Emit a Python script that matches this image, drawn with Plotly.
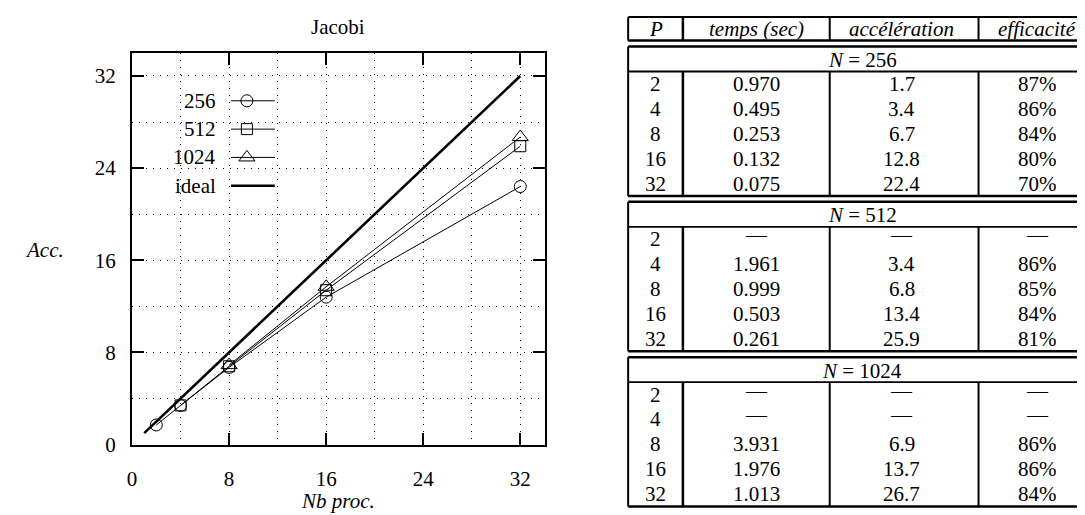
import plotly.graph_objects as go

# ---------------- data ----------------
P_VALUES = [2, 4, 8, 16, 32]
N_SIZES = [256, 512, 1024]

TEMPS_256 = [0.970, 0.495, 0.253, 0.132, 0.075]
ACCEL_256 = [1.7, 3.4, 6.7, 12.8, 22.4]
EFF_256 = [87, 86, 84, 80, 70]

TEMPS_512 = [None, 1.961, 0.999, 0.503, 0.261]
ACCEL_512 = [None, 3.4, 6.8, 13.4, 25.9]
EFF_512 = [None, 86, 85, 84, 81]

TEMPS_1024 = [None, None, 3.931, 1.976, 1.013]
ACCEL_1024 = [None, None, 6.9, 13.7, 26.7]
EFF_1024 = [None, None, 86, 86, 84]

HEADERS = ["<i>P</i>", "<i>temps (sec)</i>", "<i>accélération</i>", "<i>efficacité</i>"]
X_TICKS = [0, 8, 16, 24, 32]
Y_TICKS = [0, 8, 16, 24, 32]
TITLE = "Jacobi"
X_LABEL = "<i>Nb proc.</i>"
Y_LABEL = "<i>Acc.</i>"
IDEAL_LABEL = "ideal"

SERIES = [
    (256, TEMPS_256, ACCEL_256, EFF_256, "circle-open", 12),
    (512, TEMPS_512, ACCEL_512, EFF_512, "square-open", 11),
    (1024, TEMPS_1024, ACCEL_1024, EFF_1024, "triangle-up-open", 14),
]

# ---------------- style / layout ----------------
W, H = 1085, 515
FONT = "Liberation Serif, Times New Roman, serif"
FS = 21
BLACK = "black"

PLOT_L, PLOT_R, PLOT_T, PLOT_B = 119.6, 534.0, 46.0, 447.0


def px(x):
    return x / W


def py(y):
    return 1 - y / H


fig = go.Figure()

# chart series
for n, temps, accel, eff, sym, msize in SERIES:
    xs = [p for p, a in zip(P_VALUES, accel) if a is not None]
    ys = [a for a in accel if a is not None]
    fig.add_trace(go.Scatter(
        x=xs, y=ys, mode="lines+markers", showlegend=False,
        line=dict(color=BLACK, width=1),
        marker=dict(symbol=sym, size=msize, color=BLACK, line=dict(width=1, color=BLACK)),
        xaxis="x", yaxis="y", cliponaxis=False,
    ))

ideal_x = [1, max(P_VALUES)]
fig.add_trace(go.Scatter(
    x=ideal_x, y=ideal_x, mode="lines", showlegend=False,
    line=dict(color=BLACK, width=2.6), xaxis="x", yaxis="y",
))

# ---------------- custom key (pixel overlay axes) ----------------
KEY_TEXT_R = 205.5
KEY_LINE_X0, KEY_LINE_X1, KEY_MARK_X = 219.0, 263.0, 235.0
KEY_Y0, KEY_DY = 95.0, 29.0

annotations = []
shapes = []
key_entries = [(str(n), sym, msize) for n, _, _, _, sym, msize in SERIES] + [(IDEAL_LABEL, None, None)]
for i, (lab, sym, msize) in enumerate(key_entries):
    yk = KEY_Y0 + i * KEY_DY
    annotations.append(dict(
        x=px(KEY_TEXT_R), y=py(yk), xref="paper", yref="paper", text=lab,
        showarrow=False, xanchor="right", yanchor="middle", height=22,
        font=dict(family=FONT, size=FS, color=BLACK),
    ))
    shapes.append(dict(
        type="line", xref="paper", yref="paper",
        x0=px(KEY_LINE_X0), x1=px(KEY_LINE_X1), y0=py(yk), y1=py(yk),
        line=dict(color=BLACK, width=1 if sym else 2.6), layer="above",
    ))
    if sym:
        fig.add_trace(go.Scatter(
            x=[KEY_MARK_X], y=[yk], mode="markers", showlegend=False,
            marker=dict(symbol=sym, size=msize, color=BLACK, line=dict(width=1, color=BLACK)),
            xaxis="x2", yaxis="y2", cliponaxis=False, hoverinfo="skip",
        ))

# ---------------- chart texts ----------------
cx = (PLOT_L + PLOT_R) / 2
annotations += [
    dict(x=px(cx), y=py(19), xref="paper", yref="paper", text=TITLE, showarrow=False,
         xanchor="center", yanchor="middle", font=dict(family=FONT, size=FS, color=BLACK)),
    dict(x=px(cx), y=py(505), xref="paper", yref="paper", text=X_LABEL, showarrow=False,
         xanchor="center", yanchor="middle", font=dict(family=FONT, size=FS, color=BLACK)),
    dict(x=px(32), y=py(248), xref="paper", yref="paper", text=Y_LABEL, showarrow=False,
         xanchor="center", yanchor="middle", font=dict(family=FONT, size=FS, color=BLACK)),
]

# ---------------- table ----------------
COL_X = [618.0, 673.0, 820.5, 970.0, 1090.0]
COL_C = [645.5, 747.0, 893.0, 1029.0]
HEAD_T, HEAD_B = 9.3, 33.3
SEC_T0, SEC_STEP, ROW_H = 39.5, 159.0, 25.5
CELL_H = 20


def hline(y, x0, x1, w):
    shapes.append(dict(type="line", xref="paper", yref="paper", x0=px(x0), x1=px(x1),
                       y0=py(y), y1=py(y), line=dict(color=BLACK, width=w)))


def vline(x, y0, y1, w):
    shapes.append(dict(type="line", xref="paper", yref="paper", x0=px(x), x1=px(x),
                       y0=py(y0), y1=py(y1), line=dict(color=BLACK, width=w)))


def cell(x, y, text, yshift=0):
    annotations.append(dict(x=px(x), y=py(y), xref="paper", yref="paper", text=text,
                            showarrow=False, xanchor="center", yanchor="middle", yshift=yshift,
                            height=CELL_H, valign="middle",
                            font=dict(family=FONT, size=FS, color=BLACK)))


# header
hline(HEAD_T, COL_X[0], COL_X[-1], 2)
hline(HEAD_B, COL_X[0], COL_X[-1], 2.5)
vline(COL_X[0], HEAD_T, HEAD_B, 2)
vline(COL_X[1], HEAD_T, HEAD_B, 2.5)
vline(COL_X[2], HEAD_T, HEAD_B, 2)
vline(COL_X[3], HEAD_T, HEAD_B, 2)
for c, h in zip(COL_C, HEADERS):
    cell(c, (HEAD_T + HEAD_B) / 2, h)

DASH = "—"
for k, (n, temps, accel, eff, _, _) in enumerate(SERIES):
    t = SEC_T0 + k * SEC_STEP
    b = t + 6 * ROW_H
    hline(t, COL_X[0], COL_X[-1], 2.5)
    hline(t + ROW_H, COL_X[0], COL_X[-1], 1.8)
    hline(b, COL_X[0], COL_X[-1], 2.5)
    vline(COL_X[0], t, b, 2)
    vline(COL_X[1], t + ROW_H, b, 2.5)
    vline(COL_X[2], t + ROW_H, b, 2)
    vline(COL_X[3], t + ROW_H, b, 2)
    cell((COL_X[0] + 1088) / 2, t + ROW_H / 2 + 1, f"<i>N</i> = {n}")
    for i, p in enumerate(P_VALUES):
        yc = t + ROW_H * 1.5 + i * ROW_H
        cell(COL_C[0], yc, str(p))
        vals = [
            None if temps[i] is None else f"{temps[i]:.3f}",
            None if accel[i] is None else f"{accel[i]:.1f}",
            None if eff[i] is None else f"{eff[i]}%",
        ]
        for c, v in zip(COL_C[1:], vals):
            if v is None:
                cell(c, yc, DASH, yshift=4)
            else:
                cell(c, yc, v)

# ---------------- axes ----------------
GRID_DASH = "1px,6px"
axis_common = dict(
    range=[0, 34], ticks="inside", ticklen=12, tickwidth=2, tickcolor=BLACK,
    mirror="allticks", showline=True, linewidth=2, linecolor=BLACK,
    showgrid=True, gridcolor=BLACK, gridwidth=1.2, griddash=GRID_DASH,
    zeroline=False, tickfont=dict(family=FONT, size=FS, color=BLACK),
    minor=dict(dtick=4, tick0=0, showgrid=True, gridcolor=BLACK, gridwidth=1.2,
               griddash=GRID_DASH, ticks=""),
    fixedrange=True,
)

fig.update_layout(
    width=W, height=H, margin=dict(l=0, r=0, t=0, b=0),
    paper_bgcolor="white", plot_bgcolor="rgba(0,0,0,0)",
    showlegend=False,
    xaxis=dict(domain=[px(PLOT_L), px(PLOT_R)], anchor="y", tickvals=X_TICKS,
               ticklabelstandoff=14, **axis_common),
    yaxis=dict(domain=[py(PLOT_B), py(PLOT_T)], anchor="x", tickvals=Y_TICKS,
               ticklabelstandoff=10, **axis_common),
    xaxis2=dict(domain=[0, 1], range=[0, W], anchor="y2", visible=False, fixedrange=True),
    yaxis2=dict(domain=[0, 1], range=[H, 0], anchor="x2", visible=False, fixedrange=True),
    annotations=annotations, shapes=shapes,
)

fig.write_html("out.html")
